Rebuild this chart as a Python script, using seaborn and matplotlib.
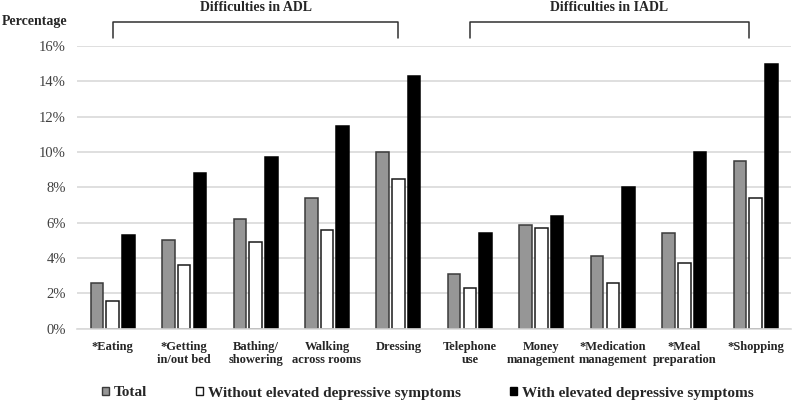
import pandas as pd
import numpy as np
import seaborn as sns
import matplotlib.pyplot as plt
from matplotlib.ticker import PercentFormatter

# data (percent)
activities = ["*Eating", "*Getting\nin/out bed", "Bathing/\nshowering", "Walking\nacross rooms",
              "Dressing", "Telephone\nuse", "Money\nmanagement", "*Medication\nmanagement",
              "*Meal\npreparation", "*Shopping"]
groups = ["Total", "Without elevated depressive symptoms", "With elevated depressive symptoms"]
total = [2.6, 5.0, 6.2, 7.4, 10.0, 3.1, 5.9, 4.1, 5.4, 9.5]
without_dep = [1.6, 3.6, 4.9, 5.6, 8.5, 2.3, 5.7, 2.6, 3.7, 7.4]
with_dep = [5.3, 8.8, 9.7, 11.5, 14.3, 5.4, 6.4, 8.0, 10.0, 15.0]
y_ticks = np.arange(0, 17, 2)

# long form dataframe
df = pd.DataFrame({
    "activity": activities * 3,
    "pct": total + without_dep + with_dep,
    "group": [groups[0]] * 10 + [groups[1]] * 10 + [groups[2]] * 10,
})

sns.set_style("white")
plt.rcParams["font.family"] = ["Liberation Serif", "DejaVu Serif"]

fig, ax = plt.subplots(figsize=(7.93, 4.03), dpi=100)
fig.subplots_adjust(left=0.097, right=0.998, top=0.886, bottom=0.184)

fills = ["#969696", "#ffffff", "#000000"]
edges = ["#3a3a3a", "#1a1a1a", "#000000"]
sns.barplot(data=df, x="activity", y="pct", hue="group", palette=fills, saturation=1,
            width=0.66, gap=0.2, linewidth=1.1, ax=ax)
for cont, ec in zip(ax.containers, edges):
    for bar in cont:
        bar.set_edgecolor(ec)

ax.set_ylim(0, 16)
ax.set_xlim(-0.5, 9.5)
ax.set_yticks(y_ticks)
ax.yaxis.set_major_formatter(PercentFormatter(decimals=0))
ax.yaxis.grid(True, color="#d9d9d9", linewidth=1.2)
ax.set_axisbelow(True)
for s in ["top", "right", "left"]:
    ax.spines[s].set_visible(False)
ax.spines["bottom"].set_color("#d9d9d9")
ax.spines["bottom"].set_linewidth(1.2)
ax.tick_params(axis="both", length=0)
ax.tick_params(axis="y", labelsize=10.5, labelcolor="#404040", pad=8)
ax.set_xticks(range(len(activities)))
ax.set_xticklabels(activities, fontsize=9, fontweight="bold", linespacing=1.1)
ax.tick_params(axis="x", pad=9)
ax.set_xlabel("")
ax.set_ylabel("")

# brackets above the two groups
for x0, x1, label in [(0.0, 4.0, "Difficulties in ADL"), (5.0, 8.9, "Difficulties in IADL")]:
    ax.plot([x0, x0, x1, x1], [16.45, 17.35, 17.35, 16.45], color="#303030", lw=1.1,
            clip_on=False, solid_joinstyle="round")
    ax.text((x0 + x1) / 2, 18.2, label, ha="center", va="center", fontsize=10,
            fontweight="bold")

fig.text(0.002, 1 - 22 / 403, "Percentage", fontsize=10, fontweight="bold", va="center")

handles = ax.get_legend_handles_labels()[0]
ax.legend_.remove()
leg = fig.legend(handles, groups, loc="center left", bbox_to_anchor=(102 / 793, 1 - 393 / 403),
                 ncol=3, frameon=False, borderpad=0, borderaxespad=0,
                 handlelength=0.46, handleheight=0.46, handletextpad=0.33,
                 columnspacing=3.2, prop={"weight": "bold", "size": 11})
for h, ec in zip(leg.legend_handles, edges):
    h.set_edgecolor(ec)
    h.set_linewidth(1.0)

plt.savefig("out.png", dpi=100)
